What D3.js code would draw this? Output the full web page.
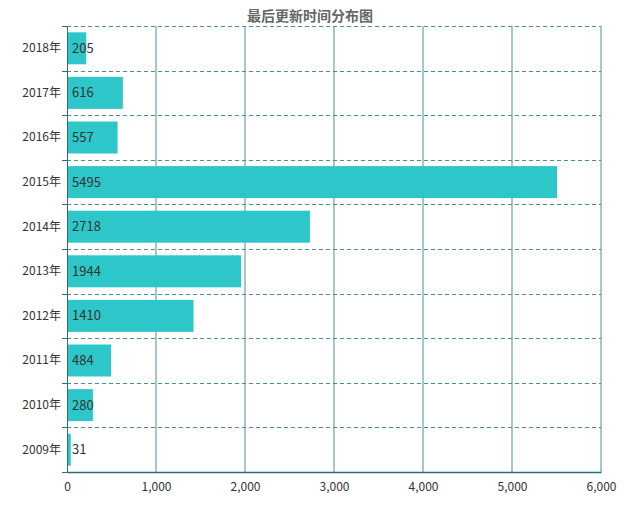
<!DOCTYPE html>
<html><head><meta charset="utf-8">
<script src="https://cdn.jsdelivr.net/npm/d3@7/dist/d3.min.js"></script>
<style>body{margin:0;background:#fff}</style></head>
<body><svg id="c" width="631" height="511"></svg>
<script>
const categories=["2018年","2017年","2016年","2015年","2014年","2013年","2012年","2011年","2010年","2009年"];
const values=[205,616,557,5495,2718,1944,1410,484,280,31];
const xTicks=[0,1000,2000,3000,4000,5000,6000];
const title="最后更新时间分布图";
const font="'Microsoft YaHei','Noto Sans CJK SC',sans-serif";
const svg=d3.select("#c");
const m={l:67,r:601,t:26,b:472};
const x=d3.scaleLinear().domain([0,6000]).range([m.l,m.r]);
const y=d3.scaleBand().domain(categories).range([m.t,m.b]);
const g=svg.append("g");
g.selectAll(".vg").data(xTicks.slice(1)).join("line").attr("x1",d=>x(d)).attr("x2",d=>x(d))
 .attr("y1",m.t).attr("y2",m.b).attr("stroke","#4a9098").attr("stroke-width",1);
const bounds=categories.map(c=>y(c));
g.selectAll(".hg").data(bounds).join("line").attr("x1",m.l).attr("x2",m.r)
 .attr("y1",d=>Math.round(d)+0.5).attr("y2",d=>Math.round(d)+0.5)
 .attr("stroke","#4a9098").attr("stroke-dasharray","4,3");
const bh=32;
g.selectAll(".bar").data(values).join("rect")
 .attr("x",x(0)+1).attr("y",(d,i)=>y(categories[i])+(y.bandwidth()-bh)/2)
 .attr("width",d=>x(d)-x(0)).attr("height",bh).attr("fill","#2ec7c9");
g.selectAll(".lbl").data(values).join("text")
 .attr("x",x(0)+5).attr("y",(d,i)=>y(categories[i])+y.bandwidth()/2)
 .attr("dy","0.35em").attr("font-family",font).attr("font-size",13).attr("fill","#333").text(d=>d);
const ya=svg.append("g").attr("transform",`translate(${m.l},0)`)
 .call(d3.axisLeft(y).tickSize(0).tickPadding(6));
ya.select(".domain").attr("stroke","#2a6e76");
ya.selectAll("text").attr("font-family",font).attr("font-size",12).attr("fill","#333");
ya.selectAll(".tk").data(bounds.concat([m.b])).join("line").attr("x1",-5).attr("x2",0)
 .attr("y1",d=>Math.round(d)+0.5).attr("y2",d=>Math.round(d)+0.5).attr("stroke","#2a6e76");
const xa=svg.append("g").attr("transform",`translate(0,${m.b})`)
 .call(d3.axisBottom(x).tickValues(xTicks).tickSize(0).tickPadding(10).tickFormat(d3.format(",")));
xa.select(".domain").attr("stroke","#2a6e76").attr("stroke-width",1.5);
xa.selectAll("text").attr("font-family",font).attr("font-size",12).attr("fill","#333");
svg.append("text").attr("x",310).attr("y",21).attr("text-anchor","middle")
 .attr("font-family",font).attr("font-size",14).attr("font-weight","bold").attr("fill","#666").text(title);
</script></body></html>
